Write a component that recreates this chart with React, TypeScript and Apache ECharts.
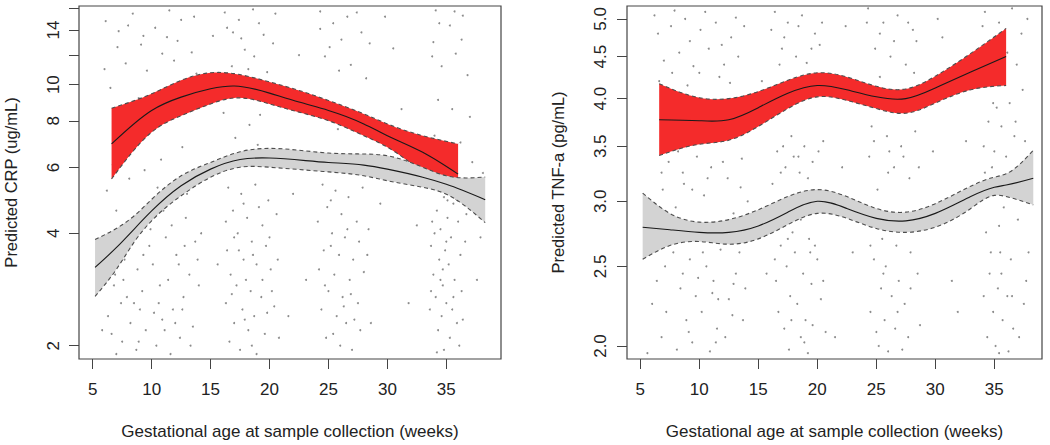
import React, { useEffect, useRef } from "react";
import * as echarts from "echarts";

// ---------- axis ticks ----------
const xTickValues = [5, 10, 15, 20, 25, 30, 35];
const crpTickValues = [2, 4, 6, 8, 10, 12, 14, 16];
const crpLabelValues = [2, 4, 6, 8, 10, 14];
const tnfTickValues = [2.0, 2.5, 3.0, 3.5, 4.0, 4.5, 5.0];

const xTitle = "Gestational age at sample collection (weeks)";
const crpTitle = "Predicted CRP (ug/mL)";
const tnfTitle = "Predicted TNF-a (pg/mL)";

// ---------- CRP: red band ----------
const crpHighWeeks = [6.6, 10, 12.5, 15, 17, 20, 22.5, 25, 28, 30, 33, 36];
const crpHighMid = [6.94, 8.53, 9.26, 9.75, 9.92, 9.49, 8.98, 8.53, 7.85, 7.3, 6.59, 5.76];
const crpHighUpper = [8.65, 9.45, 10.27, 10.76, 10.7, 10.17, 9.65, 9.07, 8.35, 7.85, 7.3, 6.94];
const crpHighLower = [5.59, 7.46, 8.26, 8.88, 9.21, 8.88, 8.44, 8.01, 7.3, 6.8, 5.82, 4.88];

// ---------- CRP: gray band ----------
const crpLowWeeks = [5.2, 7, 8.5, 10, 12.5, 15, 17.5, 20, 25, 28, 30, 33, 35, 38.3];
const crpLowMid = [3.24, 3.66, 4.1, 4.59, 5.36, 5.94, 6.3, 6.36, 6.19, 6.09, 5.94, 5.65, 5.41, 4.92];
const crpLowUpper = [3.85, 4.12, 4.45, 4.93, 5.7, 6.19, 6.61, 6.75, 6.56, 6.52, 6.45, 6.01, 5.7, 5.66];
const crpLowLower = [2.71, 3.2, 3.78, 4.32, 5.04, 5.65, 6.01, 6.01, 5.84, 5.7, 5.53, 5.31, 5.09, 4.27];

// ---------- TNF: red band ----------
const tnfHighWeeks = [6.6, 10, 12.5, 15, 17.5, 20, 22.5, 25, 27.5, 30, 33, 36];
const tnfHighMid = [3.77, 3.76, 3.77, 3.9, 4.06, 4.15, 4.1, 4.02, 4.0, 4.12, 4.31, 4.5];
const tnfHighUpper = [4.17, 4.01, 4.0, 4.08, 4.21, 4.3, 4.25, 4.14, 4.11, 4.26, 4.54, 4.87];
const tnfHighLower = [3.41, 3.52, 3.56, 3.7, 3.89, 4.02, 3.98, 3.89, 3.84, 3.95, 4.1, 4.15];

// ---------- TNF: gray band ----------
const tnfLowWeeks = [5.2, 7.5, 10, 12.5, 15, 17.5, 20, 22.5, 25, 27.5, 30, 33, 35, 36, 38.3];
const tnfLowMid = [2.79, 2.77, 2.75, 2.75, 2.8, 2.91, 3.0, 2.94, 2.86, 2.84, 2.9, 3.04, 3.12, 3.14, 3.2];
const tnfLowUpper = [3.07, 2.9, 2.83, 2.85, 2.93, 3.04, 3.1, 3.04, 2.94, 2.91, 2.98, 3.13, 3.21, 3.24, 3.46];
const tnfLowLower = [2.55, 2.65, 2.68, 2.66, 2.7, 2.81, 2.9, 2.86, 2.78, 2.75, 2.79, 2.94, 3.05, 3.04, 2.97];

// ---------- observed points ----------
const crpDots = [
  [6.1, 14.8], [7.2, 13.9], [8.4, 15.5], [9.1, 12.8], [10.3, 14.2], [11.5, 15.8], [12.2, 13.1], [13.4, 12.2],
  [7.8, 11.4], [9.6, 10.9], [6.5, 9.8], [8.9, 9.2], [11.9, 11.6], [13.8, 10.7], [7.3, 7.4], [6.2, 5.2],
  [8.1, 5.6], [9.4, 5.9], [10.8, 6.3], [12.6, 6.8], [7.0, 4.6], [8.6, 4.3], [9.9, 4.1], [11.2, 3.9],
  [12.9, 4.4], [13.7, 3.8], [6.4, 3.6], [7.7, 3.4], [8.8, 3.2], [10.1, 3.3], [11.4, 3.0], [12.1, 3.5],
  [13.2, 3.1], [6.8, 2.9], [7.9, 2.7], [9.2, 2.8], [10.6, 2.6], [11.8, 2.5], [12.7, 2.7], [14.0, 2.9],
  [6.3, 2.4], [8.2, 2.3], [9.5, 2.2], [10.9, 2.35], [12.4, 2.1], [13.5, 2.25], [7.5, 2.05], [8.7, 1.95],
  [10.4, 2.0], [11.6, 1.9], [5.8, 2.2], [6.9, 3.1], [9.8, 3.7], [11.0, 4.6], [13.0, 5.1], [14.2, 4.0],
  [12.3, 3.3], [8.3, 3.9], [9.0, 2.5], [10.7, 2.9], [12.0, 2.3], [7.4, 2.6], [13.9, 3.4], [11.3, 13.4],
  [6.7, 6.1], [7.1, 12.6], [8.0, 14.4], [9.3, 13.5], [10.9, 12.1], [12.5, 14.9], [13.6, 15.2], [6.0, 11.0],
  [9.7, 4.7], [10.5, 5.3], [11.7, 4.2], [12.8, 3.7], [7.6, 3.0], [8.5, 2.6], [9.3, 3.5], [10.2, 2.45],
  [11.1, 2.2], [12.6, 2.5], [13.3, 2.0], [6.6, 2.15], [7.0, 1.9], [8.9, 2.05],
  [16.2, 15.6], [17.4, 14.9], [18.6, 15.9], [19.5, 13.6], [17.9, 12.4], [16.8, 11.2], [20.3, 12.9], [18.3, 7.8],
  [17.1, 7.2], [19.2, 8.3], [16.5, 5.3], [17.6, 5.1], [18.8, 5.4], [19.9, 4.9], [16.9, 4.6], [18.1, 4.4],
  [19.4, 4.2], [20.6, 4.5], [17.3, 4.0], [18.5, 3.8], [16.4, 3.6], [19.7, 3.7], [17.8, 3.4], [18.9, 3.3],
  [16.7, 3.1], [20.1, 3.2], [17.2, 2.9], [18.4, 2.8], [19.3, 2.7], [16.3, 2.6], [17.7, 2.5], [18.7, 2.4],
  [20.4, 2.55], [17.0, 2.3], [18.2, 2.2], [19.6, 2.15], [16.6, 2.05], [17.5, 1.95], [18.9, 1.9], [20.8, 2.1],
  [19.0, 6.9], [16.1, 8.4], [18.0, 3.0], [19.1, 4.7], [17.4, 3.6], [20.2, 2.8], [16.9, 13.8], [18.7, 11.9],
  [16.3, 4.3], [17.0, 3.9], [17.8, 4.8], [18.6, 3.5], [19.4, 3.0], [20.0, 3.9], [20.7, 3.4], [16.8, 2.75],
  [17.9, 2.35], [18.5, 2.0], [19.8, 2.45], [16.4, 14.2], [17.6, 13.3], [19.1, 14.6], [20.5, 15.5], [18.2, 11.0],
  [19.8, 10.8],
  [24.3, 15.7], [25.4, 14.6], [26.6, 15.2], [27.8, 13.8], [25.1, 12.6], [26.9, 11.3], [24.7, 11.9], [28.2, 10.4],
  [25.8, 7.6], [27.3, 7.9], [24.5, 5.4], [25.6, 5.2], [26.7, 5.0], [27.9, 5.3], [24.9, 4.7], [26.1, 4.5],
  [27.4, 4.3], [25.3, 4.0], [26.4, 3.9], [28.4, 4.1], [24.6, 3.6], [25.9, 3.5], [27.1, 3.4], [24.2, 3.2],
  [25.5, 3.1], [26.8, 3.0], [28.0, 3.15], [25.0, 2.8], [26.2, 2.7], [27.5, 2.6], [24.4, 2.5], [25.7, 2.4],
  [26.5, 2.3], [27.7, 2.2], [24.8, 2.1], [26.0, 2.0], [27.0, 1.95], [28.6, 2.3], [25.2, 3.7], [26.3, 2.55],
  [24.1, 4.3], [25.2, 4.9], [26.6, 4.1], [27.6, 3.8], [28.3, 3.5], [24.7, 2.9], [26.9, 2.75], [27.2, 2.35],
  [25.4, 2.15], [24.3, 14.1], [26.1, 13.2], [27.4, 15.6], [28.5, 12.9], [25.9, 10.9],
  [34.1, 15.8], [35.3, 14.4], [36.4, 15.3], [33.9, 13.0], [35.8, 12.1], [34.6, 11.2], [36.8, 10.6], [34.3, 9.1],
  [35.5, 8.6], [34.0, 7.3], [36.2, 7.0], [37.2, 6.2], [33.8, 5.3], [34.8, 5.0], [35.6, 4.8], [34.2, 4.6],
  [35.1, 4.4], [36.0, 4.3], [34.5, 4.1], [35.4, 3.9], [33.7, 3.7], [34.9, 3.6], [36.6, 3.8], [34.4, 3.4],
  [35.2, 3.3], [33.9, 3.1], [35.7, 3.0], [34.7, 2.9], [36.3, 2.8], [34.1, 2.7], [35.0, 2.6], [33.6, 2.5],
  [34.6, 2.4], [35.9, 2.3], [34.3, 2.2], [35.3, 2.1], [36.1, 2.0], [34.8, 1.95], [37.6, 3.0], [38.1, 5.8],
  [37.9, 3.9], [34.5, 3.0], [35.1, 4.9], [33.8, 4.3], [35.6, 2.7],
  [34.0, 4.0], [35.0, 3.8], [36.2, 3.5], [34.7, 3.2], [35.5, 2.5], [33.7, 2.8], [36.4, 2.35], [34.2, 1.92],
  [35.8, 5.2], [36.7, 4.5], [34.4, 14.6], [35.7, 15.7], [33.8, 11.9], [36.3, 13.2], [37.0, 8.2],
  [15.2, 13.5], [22.5, 12.0], [23.1, 3.0], [30.5, 12.5], [31.8, 2.6], [29.4, 4.8], [22.0, 5.1], [31.2, 8.6],
  [29.8, 15.2], [15.6, 3.3], [32.5, 4.2], [21.6, 2.4],
];

const tnfDots = [
  [6.2, 5.05], [7.6, 4.9], [8.8, 5.0], [10.1, 4.85], [11.4, 4.95], [12.7, 4.75], [13.8, 4.9], [7.0, 4.45],
  [8.3, 4.55], [9.5, 4.38], [10.8, 4.6], [12.1, 4.4], [13.3, 4.5], [6.6, 4.2], [9.0, 4.15], [11.7, 4.25],
  [7.4, 3.35], [8.6, 3.25], [9.8, 3.4], [11.0, 3.3], [12.4, 3.2], [13.6, 3.38], [6.9, 3.1], [8.0, 2.95],
  [10.4, 3.05], [12.9, 2.9], [14.1, 3.0], [7.8, 2.6], [9.2, 2.55], [10.6, 2.5], [11.8, 2.62], [13.1, 2.45],
  [6.4, 2.4], [8.4, 2.35], [9.7, 2.3], [11.2, 2.4], [12.5, 2.28], [13.9, 2.35], [7.2, 2.2], [8.9, 2.15],
  [10.2, 2.2], [11.5, 2.1], [12.8, 2.18], [6.8, 2.05], [8.1, 1.98], [9.4, 2.02], [10.9, 1.97], [12.2, 2.05],
  [5.6, 1.96], [6.0, 2.25], [9.9, 2.42], [11.1, 2.32], [8.7, 3.15], [13.4, 2.6],
  [6.5, 4.8], [7.9, 5.12], [9.2, 4.7], [10.5, 5.1], [11.9, 4.65], [13.1, 5.02], [7.7, 4.3], [10.0, 4.3],
  [12.6, 4.18], [6.8, 3.25], [8.2, 3.45], [9.4, 3.1], [10.7, 3.2], [12.0, 3.35], [13.5, 3.12], [7.1, 2.5],
  [8.6, 2.45], [10.3, 2.6], [11.6, 2.28], [12.9, 2.38], [13.7, 2.15], [9.1, 2.08], [11.4, 2.02],
  [16.4, 5.1], [17.5, 4.95], [18.7, 5.05], [19.8, 4.8], [17.0, 4.6], [18.2, 4.5], [20.2, 4.65], [16.8, 4.4],
  [19.1, 4.42], [17.8, 3.6], [18.9, 3.5], [16.6, 3.45], [20.5, 3.55], [17.3, 3.3], [18.5, 3.25], [19.6, 3.35],
  [16.2, 3.15], [17.9, 2.75], [19.3, 2.7], [16.9, 2.65], [18.1, 2.6], [20.0, 2.55], [17.4, 2.5], [18.8, 2.45],
  [16.5, 2.4], [19.5, 2.38], [17.7, 2.3], [18.3, 2.25], [20.3, 2.28], [16.7, 2.2], [19.0, 2.15], [17.2, 2.1],
  [18.6, 2.05], [20.7, 2.08], [17.6, 1.98], [19.2, 1.96], [18.4, 3.4], [19.4, 2.6], [17.1, 3.5],
  [16.1, 4.85], [17.2, 4.75], [18.4, 4.9], [19.5, 4.6], [20.4, 4.95], [16.9, 3.25], [18.0, 3.4], [19.2, 3.2],
  [20.1, 3.45], [17.5, 2.7], [18.6, 2.85], [19.8, 2.65], [16.4, 2.55], [17.8, 2.15], [19.6, 2.12], [18.9, 2.02],
  [20.5, 2.4],
  [24.3, 5.15], [25.6, 4.95], [26.8, 5.05], [28.1, 4.85], [24.9, 4.6], [26.2, 4.5], [27.5, 4.4], [25.3, 4.25],
  [28.4, 4.7], [24.6, 3.7], [25.9, 3.6], [27.1, 3.5], [28.3, 3.65], [24.4, 3.4], [26.5, 3.3], [27.8, 3.2],
  [25.1, 3.1], [26.7, 2.65], [27.9, 2.6], [24.8, 2.55], [25.8, 2.5], [26.9, 2.4], [28.5, 2.45], [25.4, 2.35],
  [26.3, 2.3], [27.4, 2.25], [24.5, 2.2], [25.7, 2.15], [26.6, 2.1], [27.7, 2.05], [25.2, 2.0], [26.0, 1.97],
  [28.7, 2.12], [26.1, 3.45], [25.5, 2.7],
  [24.2, 4.95], [25.3, 4.8], [26.5, 4.7], [27.7, 4.95], [28.2, 4.3], [24.8, 3.55], [26.0, 3.25], [27.3, 3.4],
  [28.6, 3.3], [24.5, 2.65], [25.6, 2.45], [26.8, 2.2], [27.9, 2.35], [25.0, 2.08], [27.2, 1.98],
  [34.2, 5.1], [35.4, 4.95], [36.5, 5.15], [37.8, 5.0], [34.7, 4.7], [35.9, 4.6], [34.0, 4.3], [36.9, 4.4],
  [37.4, 4.1], [35.2, 3.9], [36.3, 3.95], [34.5, 3.75], [35.6, 3.7], [36.7, 3.6], [34.1, 3.5], [35.0, 3.45],
  [36.0, 3.4], [37.2, 3.3], [34.8, 3.3], [35.8, 2.95], [37.0, 2.85], [37.9, 2.6], [34.3, 2.75], [35.5, 2.6],
  [36.4, 2.55], [34.6, 2.45], [35.3, 2.35], [36.1, 2.3], [37.5, 2.25], [34.9, 2.2], [35.7, 2.15], [36.6, 2.1],
  [34.4, 2.05], [35.1, 2.0], [36.2, 1.97], [37.7, 2.4], [35.4, 2.8], [34.9, 3.95],
  [34.0, 4.9], [35.1, 4.75], [36.1, 4.55], [37.3, 4.8], [34.4, 4.45], [35.5, 4.2], [36.8, 3.75], [34.2, 3.25],
  [35.9, 3.2], [37.6, 3.55], [34.7, 2.6], [35.6, 2.45], [36.5, 2.3], [37.1, 2.05], [34.1, 2.3], [35.4, 1.96],
  [15.3, 4.2], [22.4, 4.9], [23.0, 2.6], [30.6, 4.75], [31.4, 2.4], [29.8, 3.45], [22.1, 3.3], [31.9, 2.2],
  [15.7, 2.45], [30.2, 5.0], [21.5, 2.05], [32.6, 3.55],
];

const FONT = "Arial, 'Liberation Sans', Helvetica, sans-serif";
const INK = "#222";
const BOX = "#444";

// Natural cubic spline through pixel points (x increasing), as bezier segments.
function bezierSegments(pts: number[][]): number[][][] {
  const n = pts.length;
  const xs = pts.map((p) => p[0]);
  const ys = pts.map((p) => p[1]);
  const M = new Array(n).fill(0);
  if (n > 2) {
    const a: number[] = [], b: number[] = [], c: number[] = [], d: number[] = [];
    for (let i = 1; i < n - 1; i++) {
      const h0 = xs[i] - xs[i - 1];
      const h1 = xs[i + 1] - xs[i];
      a.push(h0);
      b.push(2 * (h0 + h1));
      c.push(h1);
      d.push(6 * ((ys[i + 1] - ys[i]) / h1 - (ys[i] - ys[i - 1]) / h0));
    }
    const m = b.length;
    for (let i = 1; i < m; i++) {
      const w = a[i] / b[i - 1];
      b[i] -= w * c[i - 1];
      d[i] -= w * d[i - 1];
    }
    const sol = new Array(m).fill(0);
    sol[m - 1] = d[m - 1] / b[m - 1];
    for (let i = m - 2; i >= 0; i--) sol[i] = (d[i] - c[i] * sol[i + 1]) / b[i];
    for (let i = 0; i < m; i++) M[i + 1] = sol[i];
  }
  const segs: number[][][] = [];
  for (let i = 0; i < n - 1; i++) {
    const h = xs[i + 1] - xs[i];
    const s = (ys[i + 1] - ys[i]) / h;
    const d0 = s - (h * (2 * M[i] + M[i + 1])) / 6;
    const d1 = s + (h * (M[i] + 2 * M[i + 1])) / 6;
    segs.push([
      [xs[i], ys[i]],
      [xs[i] + h / 3, ys[i] + (h / 3) * d0],
      [xs[i + 1] - h / 3, ys[i + 1] - (h / 3) * d1],
      [xs[i + 1], ys[i + 1]],
    ]);
  }
  return segs;
}

function pathForward(segs: number[][][]): string {
  return segs.map((s) => ` C${s[1][0]},${s[1][1]} ${s[2][0]},${s[2][1]} ${s[3][0]},${s[3][1]}`).join("");
}
function pathBackward(segs: number[][][]): string {
  return segs
    .slice()
    .reverse()
    .map((s) => ` C${s[2][0]},${s[2][1]} ${s[1][0]},${s[1][1]} ${s[0][0]},${s[0][1]}`)
    .join("");
}

function band(
  axis: number,
  weeks: number[],
  lower: number[],
  mid: number[],
  upper: number[],
  fill: string,
  z: number
) {
  return {
    type: "custom",
    xAxisIndex: axis,
    yAxisIndex: axis,
    z,
    silent: true,
    clip: false,
    data: weeks.map((w, i) => [w, Math.log(mid[i])]),
    renderItem: (params: any, api: any) => {
      if (params.dataIndex !== 0) return null;
      const c = (arr: number[]) => weeks.map((w, i) => api.coord([w, Math.log(arr[i])]));
      const up = c(upper);
      const lo = c(lower);
      const md = c(mid);
      const upS = bezierSegments(up);
      const loS = bezierSegments(lo);
      const mdS = bezierSegments(md);
      const nL = lo.length - 1;
      const fillD =
        `M${up[0][0]},${up[0][1]}` +
        pathForward(upS) +
        ` L${lo[nL][0]},${lo[nL][1]}` +
        pathBackward(loS) +
        " Z";
      const lineD = (p: number[][], s: number[][][]) => `M${p[0][0]},${p[0][1]}` + pathForward(s);
      const dash = { fill: "none", stroke: "#4d4d4d", lineWidth: 1.1, lineDash: [4, 3] };
      return {
        type: "group",
        children: [
          { type: "path", shape: { pathData: fillD }, style: { fill, stroke: "none" } },
          { type: "path", shape: { pathData: lineD(up, upS) }, style: dash },
          { type: "path", shape: { pathData: lineD(lo, loS) }, style: dash },
          {
            type: "path",
            shape: { pathData: lineD(md, mdS) },
            style: { fill: "none", stroke: "#1a1a1a", lineWidth: 1.1 },
          },
        ],
      };
    },
  };
}

function xAxisFor(gridIndex: number, min: number, max: number) {
  return {
    type: "value",
    gridIndex,
    min,
    max,
    axisLine: { show: false },
    splitLine: { show: false },
    axisTick: {
      show: true,
      inside: false,
      length: 10,
      customValues: xTickValues,
      lineStyle: { color: BOX, width: 1 },
    },
    axisLabel: {
      customValues: xTickValues,
      margin: 22,
      fontSize: 17,
      color: INK,
      fontFamily: FONT,
    },
    name: xTitle,
    nameLocation: "middle",
    nameGap: 64,
    nameTextStyle: { fontSize: 17, color: INK, fontFamily: FONT },
  };
}

function yAxisFor(
  gridIndex: number,
  min: number,
  max: number,
  ticks: number[],
  labels: number[],
  fmt: (v: number) => string,
  title: string,
  gap: number,
  margin: number
) {
  return {
    type: "value",
    gridIndex,
    min,
    max,
    axisLine: { show: false },
    splitLine: { show: false },
    axisTick: {
      show: true,
      inside: false,
      length: 10,
      customValues: ticks.map(Math.log),
      lineStyle: { color: BOX, width: 1 },
    },
    axisLabel: {
      customValues: labels.map(Math.log),
      rotate: 90,
      margin,
      fontSize: 17,
      color: INK,
      fontFamily: FONT,
      formatter: (v: number) => fmt(v),
    },
    name: title,
    nameLocation: "middle",
    nameRotate: 90,
    nameGap: gap,
    nameTextStyle: { fontSize: 16.5, color: INK, fontFamily: FONT },
  };
}

export default function App() {
  const ref = useRef<HTMLDivElement>(null);

  useEffect(() => {
    if (!ref.current) return;
    const chart = echarts.init(ref.current, null, { renderer: "svg" });
    const gridBase = {
      top: 6,
      height: 353,
      show: true,
      borderColor: BOX,
      borderWidth: 1.2,
      backgroundColor: "transparent",
      containLabel: false,
      outerBoundsMode: "none",
    };
    const dotStyle = { color: "#6f6f6f" };
    chart.setOption({
      animation: false,
      backgroundColor: "#ffffff",
      grid: [
        { ...gridBase, left: 79, width: 422 },
        { ...gridBase, left: 627, width: 415 },
      ],
      xAxis: [xAxisFor(0, 3.837, 39.64), xAxisFor(1, 3.873, 39.04)],
      yAxis: [
        yAxisFor(
          0,
          0.6111,
          2.7874,
          crpTickValues,
          crpLabelValues,
          (v) => String(Math.round(Math.exp(v))),
          crpTitle,
          60,
          17
        ),
        yAxisFor(
          1,
          0.6567,
          1.6458,
          tnfTickValues,
          tnfTickValues,
          (v) => Math.exp(v).toFixed(1),
          tnfTitle,
          61,
          18
        ),
      ],
      series: [
        {
          type: "scatter",
          xAxisIndex: 0,
          yAxisIndex: 0,
          z: 1,
          silent: true,
          symbol: "circle",
          symbolSize: 2,
          itemStyle: dotStyle,
          data: crpDots.map((p) => [p[0], Math.log(p[1])]),
        },
        {
          type: "scatter",
          xAxisIndex: 1,
          yAxisIndex: 1,
          z: 1,
          silent: true,
          symbol: "circle",
          symbolSize: 2,
          itemStyle: dotStyle,
          data: tnfDots.map((p) => [p[0], Math.log(p[1])]),
        },
        band(0, crpHighWeeks, crpHighLower, crpHighMid, crpHighUpper, "#F42B2B", 2),
        band(0, crpLowWeeks, crpLowLower, crpLowMid, crpLowUpper, "#D3D3D3", 3),
        band(1, tnfHighWeeks, tnfHighLower, tnfHighMid, tnfHighUpper, "#F42B2B", 2),
        band(1, tnfLowWeeks, tnfLowLower, tnfLowMid, tnfLowUpper, "#D3D3D3", 3),
      ],
    });
    return () => chart.dispose();
  }, []);

  return (
    <div
      ref={ref}
      style={{ position: "fixed", left: 0, top: 0, width: 1050, height: 445, background: "#fff" }}
    />
  );
}
